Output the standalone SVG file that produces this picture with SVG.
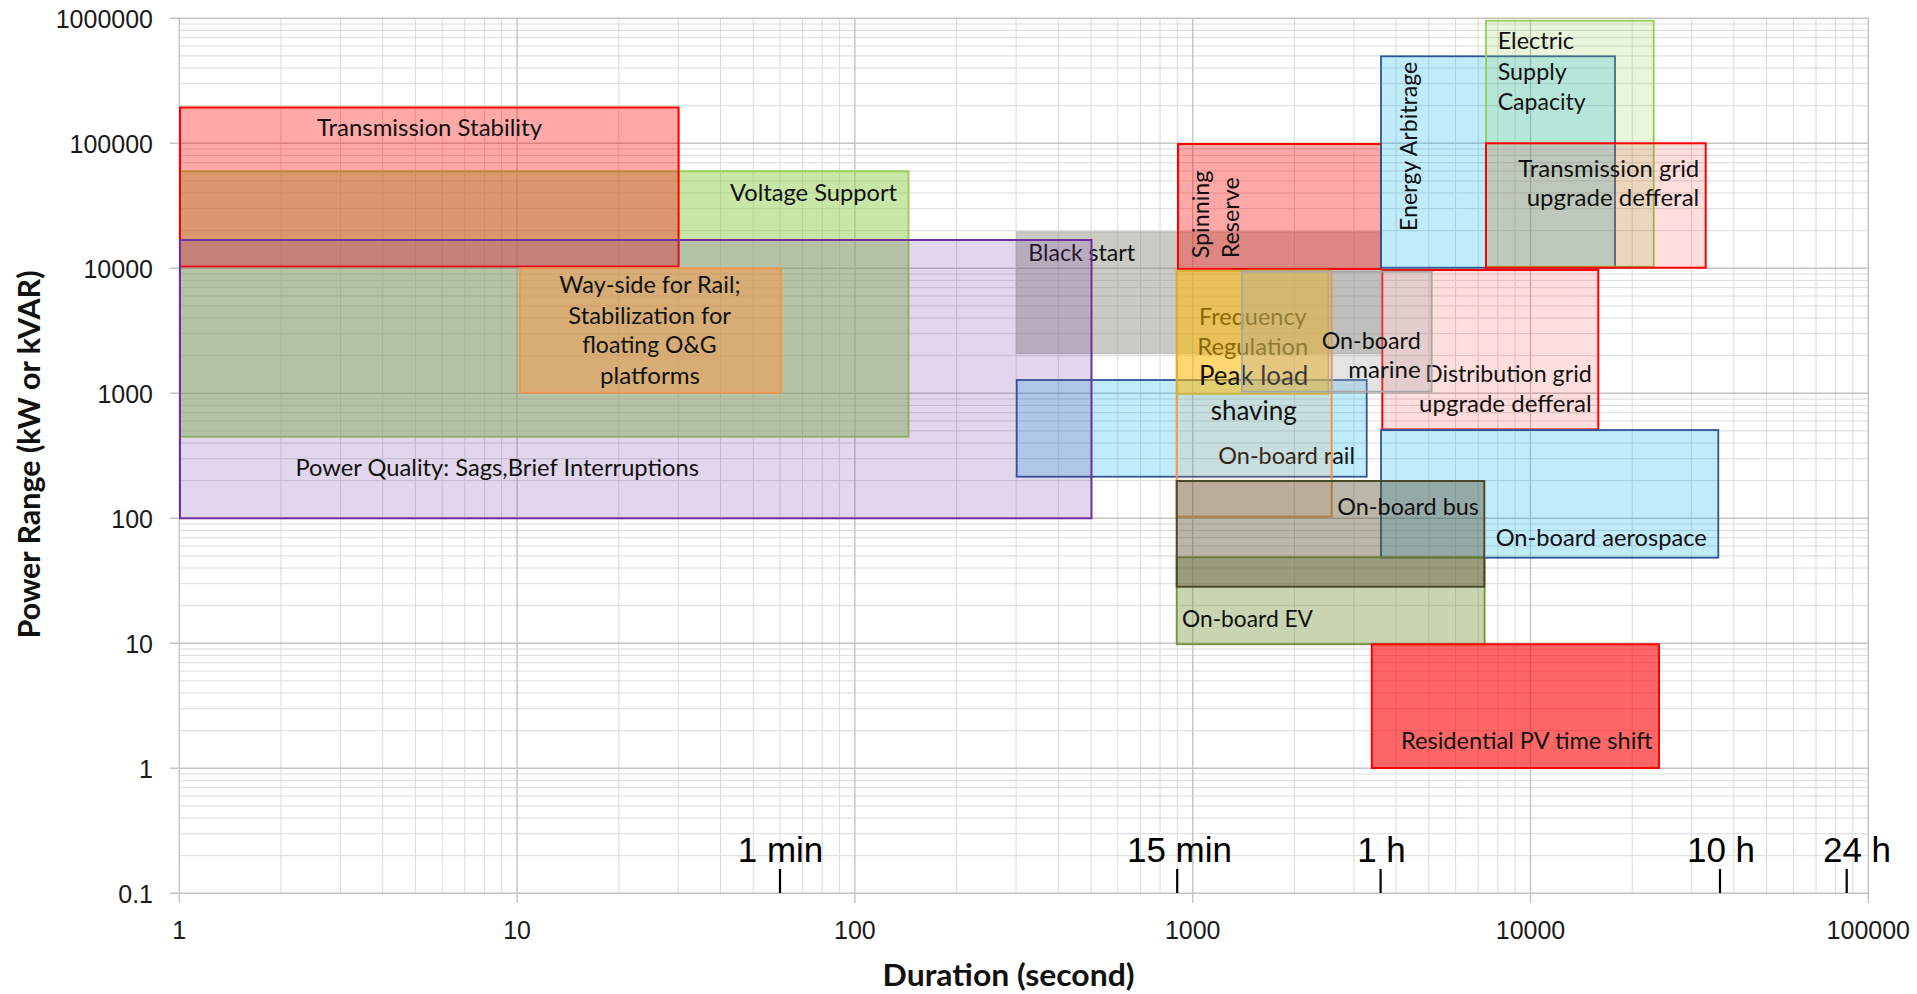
<svg xmlns="http://www.w3.org/2000/svg" width="1917" height="994" viewBox="0 0 1917 994">
<style>
.minor{stroke:#DADADA;stroke-width:1;fill:none}
.major{stroke:#C4C4C4;stroke-width:1.4;fill:none}
.lbl{font-family:Lato,"Open Sans","Liberation Sans",sans-serif;font-size:23px;fill:#111}
.ax{font-family:"Liberation Sans",Arial,sans-serif;font-size:25px;fill:#1a1a1a}
.tm{font-family:"Liberation Sans",Arial,sans-serif;font-size:35px;fill:#000}
.ttl{font-family:Lato,"Open Sans","Liberation Sans",sans-serif;font-weight:700;font-size:31px;fill:#111}
.tick{stroke:#000;stroke-width:2.2}
.red{fill:#FF0000;fill-opacity:0.34;stroke:#FF0000;stroke-width:2}
.pink{fill:#FF0000;fill-opacity:0.13;stroke:#FF0000;stroke-width:2}
.blue{fill:#00B0F0;fill-opacity:0.25;stroke:#2F5597;stroke-width:1.8}
</style>
<rect width="1917" height="994" fill="#fff"/>
<g id="grid">
<path class="minor" d="M281 18.3V893.3M340.5 18.3V893.3M382.7 18.3V893.3M415.4 18.3V893.3M442.2 18.3V893.3M464.8 18.3V893.3M484.4 18.3V893.3M501.6 18.3V893.3
M618.8 18.3V893.3M678.3 18.3V893.3M720.5 18.3V893.3M753.2 18.3V893.3M780 18.3V893.3M802.6 18.3V893.3M822.2 18.3V893.3M839.4 18.3V893.3
M956.6 18.3V893.3M1016.1 18.3V893.3M1058.3 18.3V893.3M1091 18.3V893.3M1117.8 18.3V893.3M1140.4 18.3V893.3M1160 18.3V893.3M1177.2 18.3V893.3
M1294.4 18.3V893.3M1353.9 18.3V893.3M1396.1 18.3V893.3M1428.8 18.3V893.3M1455.6 18.3V893.3M1478.2 18.3V893.3M1497.8 18.3V893.3M1515 18.3V893.3
M1632.2 18.3V893.3M1691.7 18.3V893.3M1733.9 18.3V893.3M1766.6 18.3V893.3M1793.4 18.3V893.3M1816 18.3V893.3M1835.6 18.3V893.3M1852.8 18.3V893.3
M179.3 855.7H1868.3M179.3 833.7H1868.3M179.3 818H1868.3M179.3 805.9H1868.3M179.3 796H1868.3M179.3 787.7H1868.3M179.3 780.4H1868.3M179.3 774H1868.3
M179.3 730.7H1868.3M179.3 708.7H1868.3M179.3 693H1868.3M179.3 680.9H1868.3M179.3 671H1868.3M179.3 662.7H1868.3M179.3 655.4H1868.3M179.3 649H1868.3
M179.3 605.7H1868.3M179.3 583.7H1868.3M179.3 568H1868.3M179.3 555.9H1868.3M179.3 546H1868.3M179.3 537.7H1868.3M179.3 530.4H1868.3M179.3 524H1868.3
M179.3 480.7H1868.3M179.3 458.7H1868.3M179.3 443H1868.3M179.3 430.9H1868.3M179.3 421H1868.3M179.3 412.7H1868.3M179.3 405.4H1868.3M179.3 399H1868.3
M179.3 355.7H1868.3M179.3 333.7H1868.3M179.3 318H1868.3M179.3 305.9H1868.3M179.3 296H1868.3M179.3 287.7H1868.3M179.3 280.4H1868.3M179.3 274H1868.3
M179.3 230.7H1868.3M179.3 208.7H1868.3M179.3 193H1868.3M179.3 180.9H1868.3M179.3 171H1868.3M179.3 162.7H1868.3M179.3 155.4H1868.3M179.3 149H1868.3
M179.3 105.7H1868.3M179.3 83.7H1868.3M179.3 68H1868.3M179.3 55.9H1868.3M179.3 46H1868.3M179.3 37.7H1868.3M179.3 30.4H1868.3M179.3 24H1868.3"/>
<path class="major" d="M179.3 18.3V903M517.1 18.3V903M854.9 18.3V903M1192.7 18.3V903M1530.5 18.3V903M1868.3 18.3V903
M170 18.3H1868.3M170 143.3H1868.3M170 268.3H1868.3M170 393.3H1868.3M170 518.3H1868.3M170 643.3H1868.3M170 768.3H1868.3M170 893.3H1868.3"/>
</g>
<g id="axes">
<g class="ax" text-anchor="end">
<text x="153" y="27.8">1000000</text>
<text x="153" y="152.8">100000</text>
<text x="153" y="277.8">10000</text>
<text x="153" y="402.8">1000</text>
<text x="153" y="527.8">100</text>
<text x="153" y="652.8">10</text>
<text x="153" y="777.8">1</text>
<text x="153" y="902.8">0.1</text>
</g>
<g class="ax" text-anchor="middle">
<text x="179.3" y="939.3">1</text>
<text x="517.1" y="939.3">10</text>
<text x="854.9" y="939.3">100</text>
<text x="1192.7" y="939.3">1000</text>
<text x="1530.5" y="939.3">10000</text>
<text x="1868.3" y="939.3">100000</text>
</g>
<text class="ttl" x="1008.6" y="986" text-anchor="middle" textLength="252" lengthAdjust="spacingAndGlyphs">Duration (second)</text>
<text class="ttl" transform="translate(40,454.5) rotate(-90)" text-anchor="middle" textLength="368" lengthAdjust="spacingAndGlyphs">Power Range (kW or kVAR)</text>
</g>
<g id="time-markers">
<path class="tick" d="M780 869V893M1177.2 869V893M1380.6 869V893M1720 869V893M1846.7 869V893"/>
<text class="tm" x="780.5" y="861.7" text-anchor="middle">1 min</text>
<text class="tm" x="1179.5" y="861.7" text-anchor="middle">15 min</text>
<text class="tm" x="1381.5" y="861.7" text-anchor="middle">1 h</text>
<text class="tm" x="1721" y="861.7" text-anchor="middle">10 h</text>
<text class="tm" x="1857" y="861.7" text-anchor="middle">24 h</text>
</g>
<g id="voltage-support">
<rect x="180" y="171.3" width="728.5" height="265.4" fill="#92D050" fill-opacity="0.5" stroke="#92D050" stroke-width="1.8"/>
<text class="lbl" x="730" y="200.7" textLength="167" lengthAdjust="spacingAndGlyphs">Voltage Support</text>
</g>
<g id="transmission-stability">
<rect class="red" x="180" y="107.5" width="498.6" height="159"/>
<text class="lbl" x="317" y="136" textLength="225" lengthAdjust="spacingAndGlyphs">Transmission Stability</text>
</g>
<g id="black-start">
<rect x="1016.5" y="232" width="364" height="121.5" fill="#8C8C80" fill-opacity="0.45" stroke="#BFBFBF" stroke-width="1.5"/>
<text class="lbl" x="1028.3" y="261" textLength="106.7" lengthAdjust="spacingAndGlyphs">Black start</text>
</g>
<g id="spinning-reserve">
<rect class="red" x="1178" y="144" width="203" height="125"/>
<text class="lbl" transform="translate(1209.3,258.3) rotate(-90)" textLength="87.6" lengthAdjust="spacingAndGlyphs">Spinning</text>
<text class="lbl" transform="translate(1239.3,258.3) rotate(-90)" textLength="81" lengthAdjust="spacingAndGlyphs">Reserve</text>
</g>
<g id="on-board-rail">
<rect class="blue" x="1016.7" y="380" width="350" height="96.7"/>
<text class="lbl" x="1218.3" y="464.3" textLength="136.7" lengthAdjust="spacingAndGlyphs">On-board rail</text>
</g>
<g id="power-quality">
<rect x="180" y="240" width="911.5" height="278.3" fill="#7030A0" fill-opacity="0.2" stroke="#7030A0" stroke-width="2"/>
<text class="lbl" x="295.5" y="476" textLength="403.5" lengthAdjust="spacingAndGlyphs">Power Quality: Sags,Brief Interruptions</text>
</g>
<g id="way-side">
<rect x="520" y="268.3" width="261" height="124.4" fill="#F79646" fill-opacity="0.5" stroke="#F79646" stroke-width="1.8"/>
<text class="lbl" x="559.3" y="293.3" textLength="181.3" lengthAdjust="spacingAndGlyphs">Way-side for Rail;</text>
<text class="lbl" x="568.3" y="323.8" textLength="162.7" lengthAdjust="spacingAndGlyphs">Stabilization for</text>
<text class="lbl" x="582.3" y="353.3" textLength="134.3" lengthAdjust="spacingAndGlyphs">floating O&amp;G</text>
<text class="lbl" x="600" y="384.3" textLength="100" lengthAdjust="spacingAndGlyphs">platforms</text>
</g>
<g id="energy-arbitrage">
<rect class="blue" x="1381" y="56.3" width="234" height="211.4"/>
<text class="lbl" transform="translate(1416.7,231) rotate(-90)" textLength="169.3" lengthAdjust="spacingAndGlyphs">Energy Arbitrage</text>
</g>
<g id="electric-supply-capacity">
<rect x="1486" y="20.7" width="167.7" height="246" fill="#92D050" fill-opacity="0.2" stroke="#92D050" stroke-width="1.8"/>
<text class="lbl" x="1497.7" y="49.3" textLength="76.3" lengthAdjust="spacingAndGlyphs">Electric</text>
<text class="lbl" x="1497.7" y="80" textLength="69" lengthAdjust="spacingAndGlyphs">Supply</text>
<text class="lbl" x="1497.7" y="110" textLength="88" lengthAdjust="spacingAndGlyphs">Capacity</text>
</g>
<g id="transmission-grid-upgrade">
<rect class="pink" x="1486" y="143.3" width="219.7" height="124.4"/>
<text class="lbl" x="1518.3" y="176.7" textLength="181" lengthAdjust="spacingAndGlyphs">Transmission grid</text>
<text class="lbl" x="1526.7" y="206.3" textLength="172.6" lengthAdjust="spacingAndGlyphs">upgrade defferal</text>
</g>
<g id="distribution-grid-upgrade">
<rect class="pink" x="1382.3" y="270" width="216" height="159.5"/>
<text class="lbl" x="1425" y="381.7" textLength="166.7" lengthAdjust="spacingAndGlyphs">Distribution grid</text>
<text class="lbl" x="1419" y="411.7" textLength="172.7" lengthAdjust="spacingAndGlyphs">upgrade defferal</text>
</g>
<g id="frequency-regulation">
<rect x="1176.7" y="270.7" width="155" height="246" fill="#F79646" fill-opacity="0.15" stroke="#F79646" stroke-width="2"/>
<text class="lbl" x="1199" y="325" textLength="107.7" lengthAdjust="spacingAndGlyphs">Frequency</text>
<text class="lbl" x="1197.3" y="355" textLength="111" lengthAdjust="spacingAndGlyphs">Regulation</text>
</g>
<g id="peak-load-shaving">
<rect x="1176.7" y="270.7" width="151.6" height="123.3" fill="#FFC000" fill-opacity="0.5" stroke="#C8B43C" stroke-width="1.5"/>
<text class="lbl" x="1199" y="385" style="font-size:26px" textLength="109.3" lengthAdjust="spacingAndGlyphs">Peak load</text>
<text class="lbl" x="1210.7" y="420" style="font-size:26px" textLength="86" lengthAdjust="spacingAndGlyphs">shaving</text>
</g>
<g id="on-board-marine">
<rect x="1242" y="271.7" width="189.7" height="120" fill="#A6A6A6" fill-opacity="0.3" stroke="#A6A6A6" stroke-width="1.8"/>
<text class="lbl" x="1321.7" y="349" textLength="99" lengthAdjust="spacingAndGlyphs">On-board</text>
<text class="lbl" x="1348.3" y="378.3" textLength="72.4" lengthAdjust="spacingAndGlyphs">marine</text>
</g>
<g id="on-board-aerospace">
<rect class="blue" x="1381" y="430" width="337.3" height="127.7"/>
<text class="lbl" x="1495.7" y="545.7" textLength="211" lengthAdjust="spacingAndGlyphs">On-board aerospace</text>
</g>
<g id="on-board-ev">
<rect x="1176.7" y="557.3" width="307.9" height="87" fill="#77933C" fill-opacity="0.4" stroke="#77933C" stroke-width="1.8"/>
<text class="lbl" x="1182" y="626.7" textLength="131" lengthAdjust="spacingAndGlyphs">On-board EV</text>
</g>
<g id="on-board-bus">
<rect x="1176.7" y="481" width="307.6" height="105.7" fill="#5A5030" fill-opacity="0.42" stroke="#4A4A2A" stroke-width="2"/>
<text class="lbl" x="1337.3" y="515" textLength="141.7" lengthAdjust="spacingAndGlyphs">On-board bus</text>
</g>
<g id="residential-pv">
<rect x="1371.8" y="644.3" width="287.2" height="123.7" fill="#FF0000" fill-opacity="0.6" stroke="#FF0000" stroke-width="2"/>
<text class="lbl" x="1401" y="749.3" textLength="251.5" lengthAdjust="spacingAndGlyphs">Residential PV time shift</text>
</g>
</svg>
